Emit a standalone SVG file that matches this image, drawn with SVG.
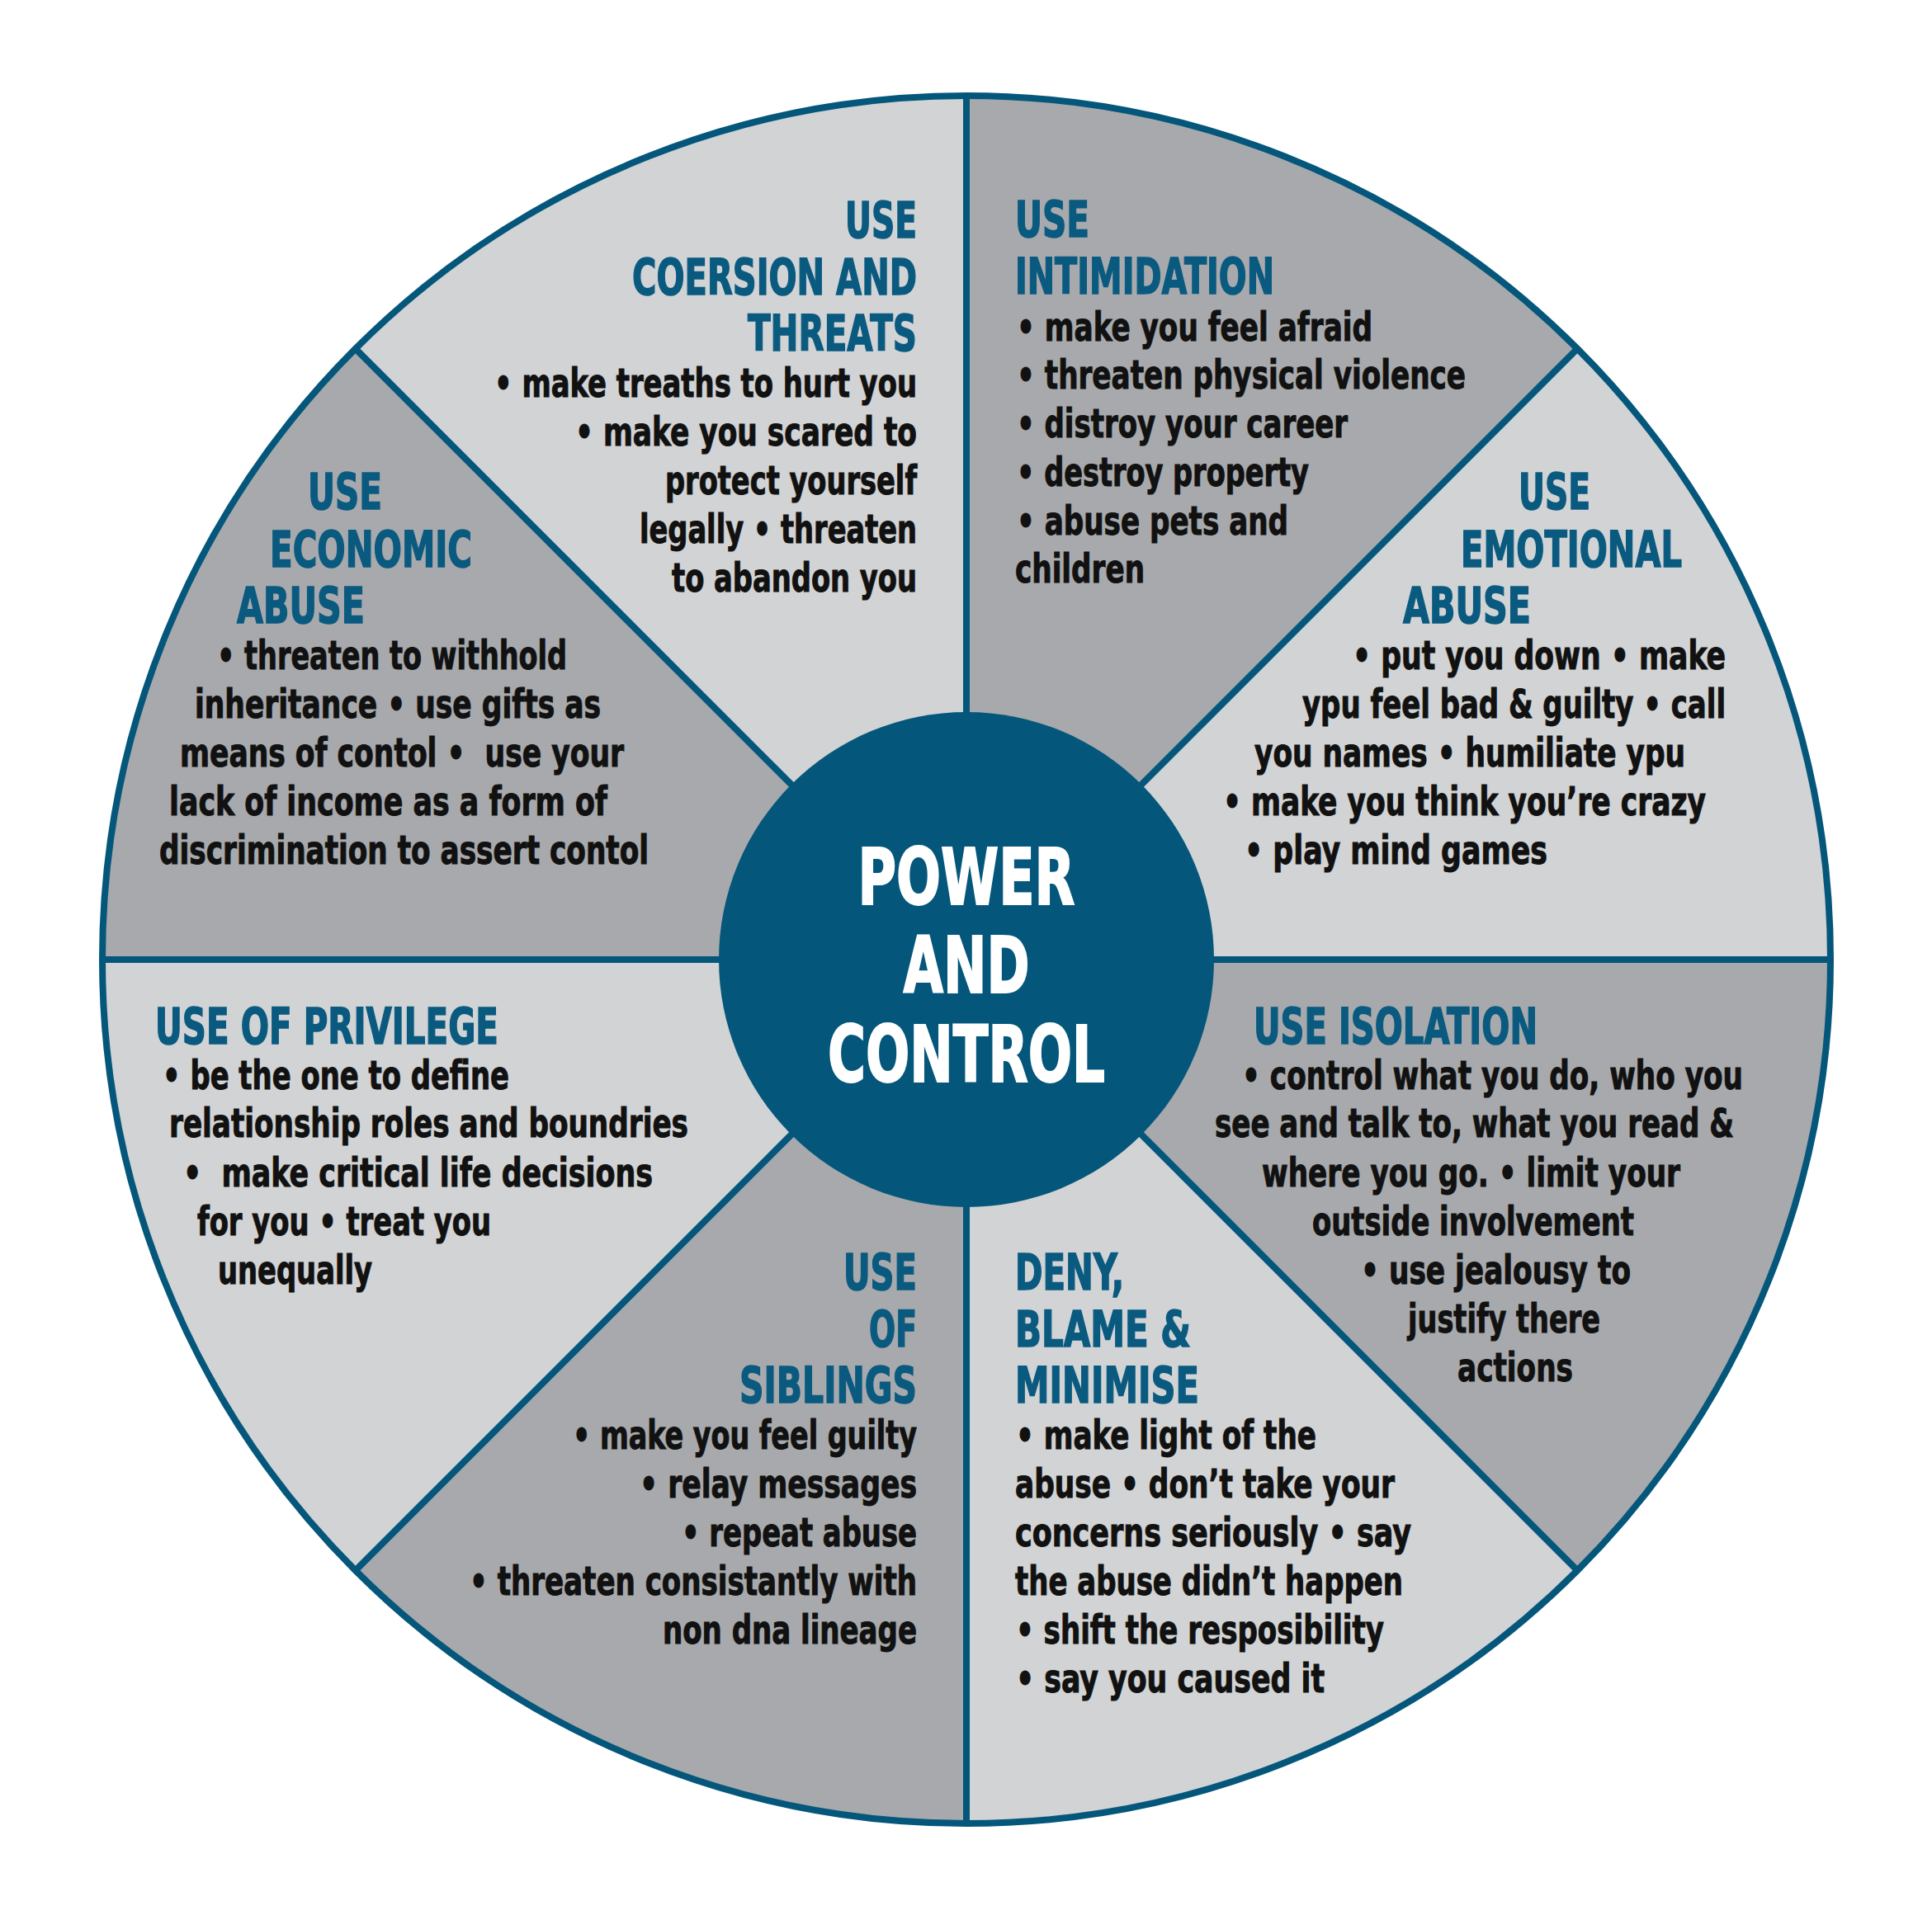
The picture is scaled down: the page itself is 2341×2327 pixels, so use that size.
<svg xmlns="http://www.w3.org/2000/svg" width="2341" height="2327" viewBox="0 0 2341 2327">
<style>
.h{font-family:"Liberation Sans Narrow","DejaVu Sans Condensed","Liberation Sans",sans-serif;font-weight:700;font-size:61px;fill:#0a5a80;stroke:#0a5a80;stroke-width:1.5px}
.b{font-family:"Liberation Sans Narrow","DejaVu Sans Condensed","Liberation Sans",sans-serif;font-weight:700;font-size:48px;fill:#111111;stroke:#111111;stroke-width:1px}
.c{font-family:"Liberation Sans Narrow","DejaVu Sans Condensed","Liberation Sans",sans-serif;font-weight:700;font-size:95px;fill:#ffffff;stroke:#ffffff;stroke-width:2px;text-anchor:middle}
.e{text-anchor:end}
.dark{fill:#a7a9ac}
.div{stroke:#04577b;stroke-width:8;fill:none}
</style>
<rect width="2341" height="2327" fill="#ffffff"/>
<g id="wheel">
<circle cx="1171" cy="1163" r="1047" fill="#d1d3d4"/>
<path class="dark" d="M1171,1163 L1171,116 A1047,1047 0 0 1 1911.3,422.7 Z"/>
<path class="dark" d="M1171,1163 L2218,1163 A1047,1047 0 0 1 1911.3,1903.3 Z"/>
<path class="dark" d="M1171,1163 L1171,2210 A1047,1047 0 0 1 430.7,1903.3 Z"/>
<path class="dark" d="M1171,1163 L124,1163 A1047,1047 0 0 1 430.7,422.7 Z"/>
</g>
<g id="connectors">
<line class="div" x1="1171" y1="116" x2="1171" y2="2210"/>
<line class="div" x1="124" y1="1163" x2="2218" y2="1163"/>
<line class="div" x1="430.7" y1="422.7" x2="1911.3" y2="1903.3"/>
<line class="div" x1="1911.3" y1="422.7" x2="430.7" y2="1903.3"/>
<circle class="div" cx="1171" cy="1163" r="1047"/>
</g>
<g id="center">
<circle cx="1171" cy="1163" r="300" fill="#04577b"/>
<text class="c" x="1171" y="1096" textLength="263" lengthAdjust="spacingAndGlyphs">POWER</text>
<text class="c" x="1171" y="1203" textLength="153" lengthAdjust="spacingAndGlyphs">AND</text>
<text class="c" x="1171" y="1311" textLength="336" lengthAdjust="spacingAndGlyphs">CONTROL</text>
</g>
<g id="coersion">
<text class="h e" x="1111" y="288" textLength="87" lengthAdjust="spacingAndGlyphs">USE</text>
<text class="h e" x="1111" y="357" textLength="345" lengthAdjust="spacingAndGlyphs">COERSION AND</text>
<text class="h e" x="1111" y="425" textLength="205" lengthAdjust="spacingAndGlyphs">THREATS</text>
<text class="b e" x="1111" y="481" textLength="512" lengthAdjust="spacingAndGlyphs">• make treaths to hurt you</text>
<text class="b e" x="1111" y="540" textLength="414" lengthAdjust="spacingAndGlyphs">• make you scared to</text>
<text class="b e" x="1111" y="599" textLength="305" lengthAdjust="spacingAndGlyphs">protect yourself</text>
<text class="b e" x="1111" y="658" textLength="336" lengthAdjust="spacingAndGlyphs">legally • threaten</text>
<text class="b e" x="1111" y="717" textLength="297" lengthAdjust="spacingAndGlyphs">to abandon you</text>
</g>
<g id="intimidation">
<text class="h" x="1230" y="287" textLength="90" lengthAdjust="spacingAndGlyphs">USE</text>
<text class="h" x="1230" y="356" textLength="314" lengthAdjust="spacingAndGlyphs">INTIMIDATION</text>
<text class="b" x="1232" y="413" textLength="431" lengthAdjust="spacingAndGlyphs">• make you feel afraid</text>
<text class="b" x="1232" y="471" textLength="544" lengthAdjust="spacingAndGlyphs">• threaten physical violence</text>
<text class="b" x="1232" y="530" textLength="401" lengthAdjust="spacingAndGlyphs">• distroy your career</text>
<text class="b" x="1232" y="589" textLength="354" lengthAdjust="spacingAndGlyphs">• destroy property</text>
<text class="b" x="1232" y="648" textLength="329" lengthAdjust="spacingAndGlyphs">• abuse pets and</text>
<text class="b" x="1230" y="706" textLength="157" lengthAdjust="spacingAndGlyphs">children</text>
</g>
<g id="economic">
<text class="h" x="373" y="617" textLength="90" lengthAdjust="spacingAndGlyphs">USE</text>
<text class="h" x="327" y="687" textLength="245" lengthAdjust="spacingAndGlyphs">ECONOMIC</text>
<text class="h" x="287" y="755" textLength="155" lengthAdjust="spacingAndGlyphs">ABUSE</text>
<text class="b" x="263" y="811" textLength="424" lengthAdjust="spacingAndGlyphs">• threaten to withhold</text>
<text class="b" x="236" y="870" textLength="492" lengthAdjust="spacingAndGlyphs">inheritance • use gifts as</text>
<text class="b" x="218" y="929" textLength="538" lengthAdjust="spacingAndGlyphs" xml:space="preserve">means of contol •  use your</text>
<text class="b" x="205" y="988" textLength="531" lengthAdjust="spacingAndGlyphs">lack of income as a form of</text>
<text class="b" x="193" y="1047" textLength="593" lengthAdjust="spacingAndGlyphs">discrimination to assert contol</text>
</g>
<g id="emotional">
<text class="h" x="1840" y="617" textLength="87" lengthAdjust="spacingAndGlyphs">USE</text>
<text class="h" x="1770" y="687" textLength="268" lengthAdjust="spacingAndGlyphs">EMOTIONAL</text>
<text class="h" x="1700" y="755" textLength="155" lengthAdjust="spacingAndGlyphs">ABUSE</text>
<text class="b" x="1639" y="811" textLength="452" lengthAdjust="spacingAndGlyphs">• put you down • make</text>
<text class="b" x="1578" y="870" textLength="513" lengthAdjust="spacingAndGlyphs">ypu feel bad &amp; guilty • call</text>
<text class="b" x="1520" y="929" textLength="522" lengthAdjust="spacingAndGlyphs">you names • humiliate ypu</text>
<text class="b" x="1482" y="988" textLength="585" lengthAdjust="spacingAndGlyphs">• make you think you’re crazy</text>
<text class="b" x="1508" y="1047" textLength="367" lengthAdjust="spacingAndGlyphs">• play mind games</text>
</g>
<g id="privilege">
<text class="h" x="188" y="1265" textLength="416" lengthAdjust="spacingAndGlyphs">USE OF PRIVILEGE</text>
<text class="b" x="197" y="1320" textLength="420" lengthAdjust="spacingAndGlyphs">• be the one to define</text>
<text class="b" x="205" y="1378" textLength="629" lengthAdjust="spacingAndGlyphs">relationship roles and boundries</text>
<text class="b" x="222" y="1438" textLength="569" lengthAdjust="spacingAndGlyphs" xml:space="preserve">•  make critical life decisions</text>
<text class="b" x="239" y="1497" textLength="356" lengthAdjust="spacingAndGlyphs">for you • treat you</text>
<text class="b" x="264" y="1556" textLength="187" lengthAdjust="spacingAndGlyphs">unequally</text>
</g>
<g id="isolation">
<text class="h" x="1519" y="1265" textLength="344" lengthAdjust="spacingAndGlyphs">USE ISOLATION</text>
<text class="b" x="1505" y="1320" textLength="607" lengthAdjust="spacingAndGlyphs">• control what you do, who you</text>
<text class="b" x="1472" y="1378" textLength="629" lengthAdjust="spacingAndGlyphs">see and talk to, what you read &amp;</text>
<text class="b" x="1529" y="1438" textLength="507" lengthAdjust="spacingAndGlyphs">where you go. • limit your</text>
<text class="b" x="1590" y="1497" textLength="390" lengthAdjust="spacingAndGlyphs">outside involvement</text>
<text class="b" x="1649" y="1556" textLength="327" lengthAdjust="spacingAndGlyphs">• use jealousy to</text>
<text class="b" x="1706" y="1615" textLength="233" lengthAdjust="spacingAndGlyphs">justify there</text>
<text class="b" x="1766" y="1674" textLength="140" lengthAdjust="spacingAndGlyphs">actions</text>
</g>
<g id="siblings">
<text class="h e" x="1111" y="1563" textLength="89" lengthAdjust="spacingAndGlyphs">USE</text>
<text class="h e" x="1111" y="1632" textLength="58" lengthAdjust="spacingAndGlyphs">OF</text>
<text class="h e" x="1111" y="1700" textLength="215" lengthAdjust="spacingAndGlyphs">SIBLINGS</text>
<text class="b e" x="1111" y="1756" textLength="417" lengthAdjust="spacingAndGlyphs">• make you feel guilty</text>
<text class="b e" x="1111" y="1815" textLength="336" lengthAdjust="spacingAndGlyphs">• relay messages</text>
<text class="b e" x="1111" y="1874" textLength="285" lengthAdjust="spacingAndGlyphs">• repeat abuse</text>
<text class="b e" x="1111" y="1933" textLength="542" lengthAdjust="spacingAndGlyphs">• threaten consistantly with</text>
<text class="b e" x="1111" y="1992" textLength="308" lengthAdjust="spacingAndGlyphs">non dna lineage</text>
</g>
<g id="deny">
<text class="h" x="1230" y="1563" textLength="132" lengthAdjust="spacingAndGlyphs">DENY,</text>
<text class="h" x="1230" y="1632" textLength="213" lengthAdjust="spacingAndGlyphs">BLAME &amp;</text>
<text class="h" x="1230" y="1700" textLength="223" lengthAdjust="spacingAndGlyphs">MINIMISE</text>
<text class="b" x="1231" y="1756" textLength="364" lengthAdjust="spacingAndGlyphs">• make light of the</text>
<text class="b" x="1230" y="1815" textLength="460" lengthAdjust="spacingAndGlyphs">abuse • don’t take your</text>
<text class="b" x="1230" y="1874" textLength="480" lengthAdjust="spacingAndGlyphs">concerns seriously • say</text>
<text class="b" x="1230" y="1933" textLength="470" lengthAdjust="spacingAndGlyphs">the abuse didn’t happen</text>
<text class="b" x="1231" y="1992" textLength="446" lengthAdjust="spacingAndGlyphs">• shift the resposibility</text>
<text class="b" x="1231" y="2051" textLength="374" lengthAdjust="spacingAndGlyphs">• say you caused it</text>
</g>
</svg>
